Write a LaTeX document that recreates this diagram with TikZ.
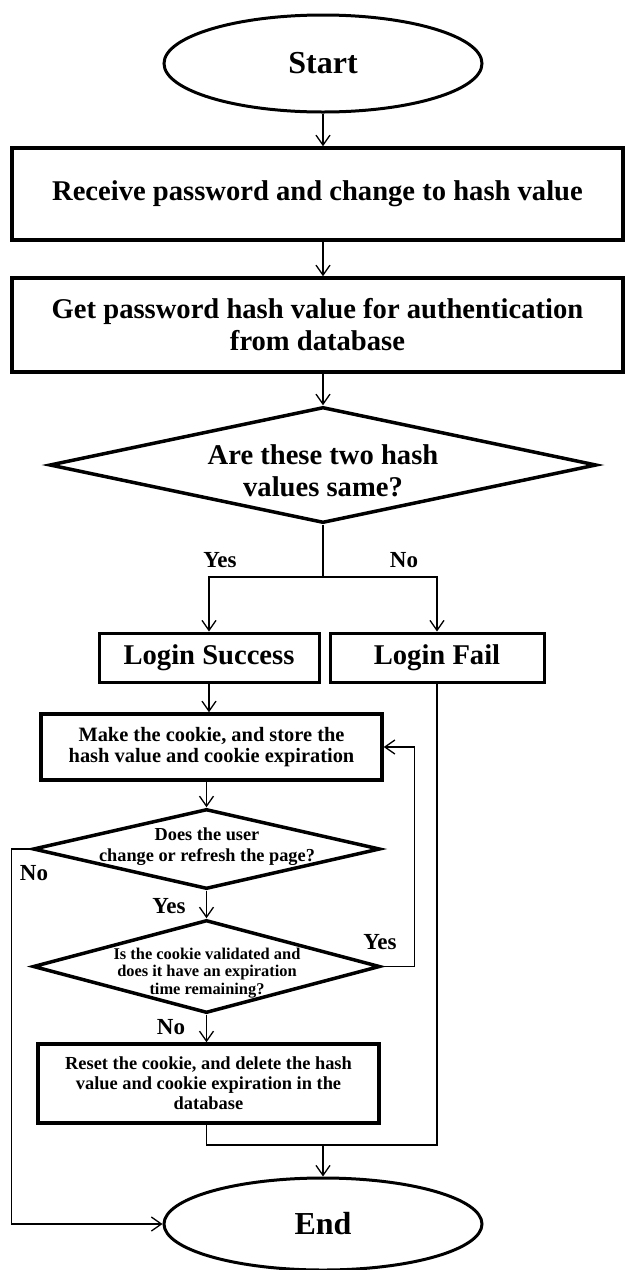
\documentclass[tikz,border=0pt]{standalone}
\usepackage{fontspec}
\setmainfont{Liberation Serif}
\usetikzlibrary{shapes.geometric,arrows.meta}

\begin{document}
\begin{tikzpicture}[x=1pt, y=-1pt]
    % Stijlen
    \tikzset{
        term/.style={ellipse, draw, line width=3pt, minimum width=318pt, minimum height=97pt,
            font=\fontsize{32}{36}\selectfont\bfseries},
        wide/.style={rectangle, draw, line width=3.5pt, minimum width=611pt, align=center,
            font=\fontsize{28.6}{32}\selectfont\bfseries},
        result/.style={rectangle, draw, line width=3pt, minimum height=49pt,
            font=\fontsize{28.6}{32}\selectfont\bfseries},
        midbox/.style={rectangle, draw, line width=3.5pt, minimum width=341pt, align=center},
        decision/.style={diamond, draw, line width=3.5pt, inner sep=0pt},
        qtext/.style={align=center, inner sep=0pt},
        lbl/.style={font=\fontsize{23}{26}\selectfont\bfseries},
        flow/.style={-{Straight Barb[length=10pt, width=14pt]}, line width=1.3pt}
    }
    \useasboundingbox (0,0) rectangle (627,1270);

    % Knopen
    \node[term] (start) at (323,63.5) {Start};
    \node[wide, minimum height=92pt] (receive) at (317.5,194) {Receive password and change to hash value};
    \node[wide, minimum height=94pt] (fetch) at (317.5,325) {Get password hash value for authentication\\from database};
    \node[decision, minimum width=547pt, minimum height=116pt] (compare) at (323,465) {};
    \node[qtext, font=\fontsize{28.6}{32}\selectfont\bfseries] (compare-txt) at (323,471) {Are these two hash\\values same?};
    \node[result, minimum width=220pt] (success) at (209,657.5) {Login Success};
    \node[result, minimum width=214pt] (fail) at (437,657.5) {Login Fail};
    \node[midbox, minimum height=66pt, font=\fontsize{20.4}{21}\selectfont\bfseries] (cookie) at (211.5,747) {Make the cookie, and store the\\hash value and cookie expiration};
    \node[decision, minimum width=347pt, minimum height=80pt] (refresh) at (206.5,849) {};
    \node[qtext, font=\fontsize{18.3}{21}\selectfont\bfseries] (refresh-txt) at (207,846.5) {Does the user\\change or refresh the page?};
    \node[decision, minimum width=347pt, minimum height=93pt] (valid) at (206.5,966.5) {};
    \node[qtext, font=\fontsize{16.4}{17.5}\selectfont\bfseries] (valid-txt) at (207,973) {Is the cookie validated and\\does it have an expiration\\time remaining?};
    \node[midbox, minimum height=79pt, font=\fontsize{18.4}{20}\selectfont\bfseries] (reset) at (208.5,1083.5) {Reset the cookie, and delete the hash\\value and cookie expiration in the\\database};
    \node[term, minimum height=92pt] (end) at (323,1224) {End};

    % Hulppunten
    \coordinate (split) at (323,577);
    \coordinate (merge) at (323,1145);

    % Pijlen
    \draw[flow] (start.south) -- (start.south |- receive.north);
    \draw[flow] (receive.south -| start) -- (fetch.north -| start);
    \draw[flow] (fetch.south -| compare) -- (compare.north);
    \draw[line width=1.3pt] (compare.south) -- (split);
    \draw[flow] (split) -| (success.north);
    \draw[flow] (split) -| (fail.north);
    \draw[flow] (success.south) -- (success.south |- cookie.north);
    \draw[flow] (cookie.south -| refresh) -- (refresh.north);
    \draw[flow] (refresh.south) -- (valid.north);
    \draw[flow] (valid.south) -- (valid.south |- reset.north);
    \draw[flow] (valid.east) -- ++(33,0) |- (cookie.east);
    \draw[flow] (refresh.west) -- ++(-20,0) |- (end.west);
    \draw[line width=1.3pt] (reset.south -| valid) |- (fail.south |- merge) -- (fail.south);
    \draw[flow] (merge) -- (end.north);

    % Labels
    \node[lbl] (yes-a) at (220,560) {Yes};
    \node[lbl] (no-a) at (404,560) {No};
    \node[lbl] (no-b) at (34,873) {No};
    \node[lbl] (yes-b) at (169,906) {Yes};
    \node[lbl] (yes-c) at (380,942) {Yes};
    \node[lbl] (no-c) at (171,1027) {No};
\end{tikzpicture}
\end{document}
